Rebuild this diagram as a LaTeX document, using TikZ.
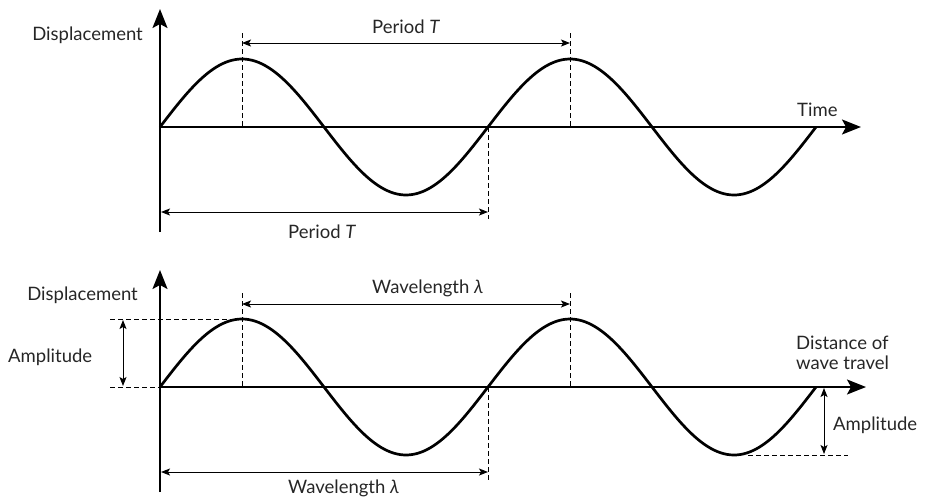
\documentclass[tikz,border=0pt]{standalone}
\usepackage{fontspec}
\setmainfont{Lato}
\usetikzlibrary{arrows.meta}
\begin{document}
\begin{tikzpicture}[x=1pt,y=-1pt,
  axis/.style={line width=2pt,-{Stealth[length=19pt,width=15pt,inset=4pt]}},
  wave/.style={line width=2.7pt,line join=round},
  dim/.style={line width=1pt,{Stealth[length=9pt,width=7pt,inset=2pt]}-{Stealth[length=9pt,width=7pt,inset=2pt]}},
  guide/.style={line width=1pt,dash pattern=on 4.5pt off 3.5pt},
  lab/.style={font=\fontsize{18.5}{20}\selectfont,inner sep=0pt,text=black!85}
]
\useasboundingbox (0,0) rectangle (925,501);

% ================= TOP GRAPH =================
\coordinate (o1) at (160,127);
\coordinate (v1b) at (160,232);
\coordinate (v1t) at (160,9);
\coordinate (h1e) at (861,127);
\draw[axis] (v1b) -- (v1t);
\draw[axis] (o1) -- (h1e);
\draw[wave] plot[domain=0:656,samples=200] ({160+\x},{127-68*sin(\x/328*360)});

\coordinate (p1a) at (242,33);
\coordinate (p1ab) at (242,127);
\coordinate (p1b) at (570,33);
\coordinate (p1bb) at (570,127);
\draw[guide] (p1a) -- (p1ab);
\draw[guide] (p1b) -- (p1bb);
\coordinate (d1a) at (242,43);
\coordinate (d1b) at (570,43);
\draw[dim] (d1a) -- (d1b);

\coordinate (z1t) at (488,127);
\coordinate (z1b) at (488,219);
\draw[guide] (z1t) -- (z1b);
\coordinate (d2a) at (161,212);
\coordinate (d2b) at (488,212);
\draw[dim] (d2a) -- (d2b);

\node[lab,anchor=east] (disp1) at (143,35) {Displacement};
\node[lab,anchor=west] (per1) at (372,27) {Period \textit{T}};
\node[lab,anchor=west] (per2) at (288,232) {Period \textit{T}};
\node[lab,anchor=west] (time) at (797,110) {Time};

% ================= BOTTOM GRAPH =================
\coordinate (o2) at (160,387);
\coordinate (v2b) at (160,492);
\coordinate (v2t) at (160,270);
\coordinate (h2e) at (866,387);
\draw[axis] (v2b) -- (v2t);
\draw[axis] (o2) -- (h2e);
\draw[wave] plot[domain=0:656,samples=200] ({160+\x},{387-68*sin(\x/328*360)});

\coordinate (w1a) at (242,293);
\coordinate (w1ab) at (242,387);
\coordinate (w1b) at (570,293);
\coordinate (w1bb) at (570,387);
\draw[guide] (w1a) -- (w1ab);
\draw[guide] (w1b) -- (w1bb);
\coordinate (e1a) at (242,304);
\coordinate (e1b) at (570,304);
\draw[dim] (e1a) -- (e1b);

\coordinate (z2t) at (488,387);
\coordinate (z2b) at (488,480);
\draw[guide] (z2t) -- (z2b);
\coordinate (e2a) at (161,472);
\coordinate (e2b) at (488,472);
\draw[dim] (e2a) -- (e2b);

% amplitude left
\coordinate (al1) at (110,319);
\coordinate (al1e) at (242,319);
\coordinate (al2) at (110,387);
\coordinate (al2e) at (160,387);
\draw[guide] (al1) -- (al1e);
\draw[guide] (al2) -- (al2e);
\coordinate (aa1) at (123,320);
\coordinate (aa2) at (123,386);
\draw[dim] (aa1) -- (aa2);

% amplitude right
\coordinate (ar1) at (748,455);
\coordinate (ar1e) at (848,455);
\draw[guide] (ar1) -- (ar1e);
\coordinate (ab1) at (824,388);
\coordinate (ab2) at (824,454);
\draw[dim] (ab1) -- (ab2);

\node[lab,anchor=east] (disp2) at (138,295) {Displacement};
\node[lab,anchor=west] (amp1) at (8,357) {Amplitude};
\node[lab,anchor=west] (amp2) at (833,425) {Amplitude};
\node[lab,anchor=west] (wl1) at (372,288) {Wavelength \textit{λ}};
\node[lab,anchor=west] (wl2) at (288,488) {Wavelength \textit{λ}};
\node[lab,anchor=west,align=left] (dist) at (796,353) {Distance of\\wave travel};
\end{tikzpicture}
\end{document}
